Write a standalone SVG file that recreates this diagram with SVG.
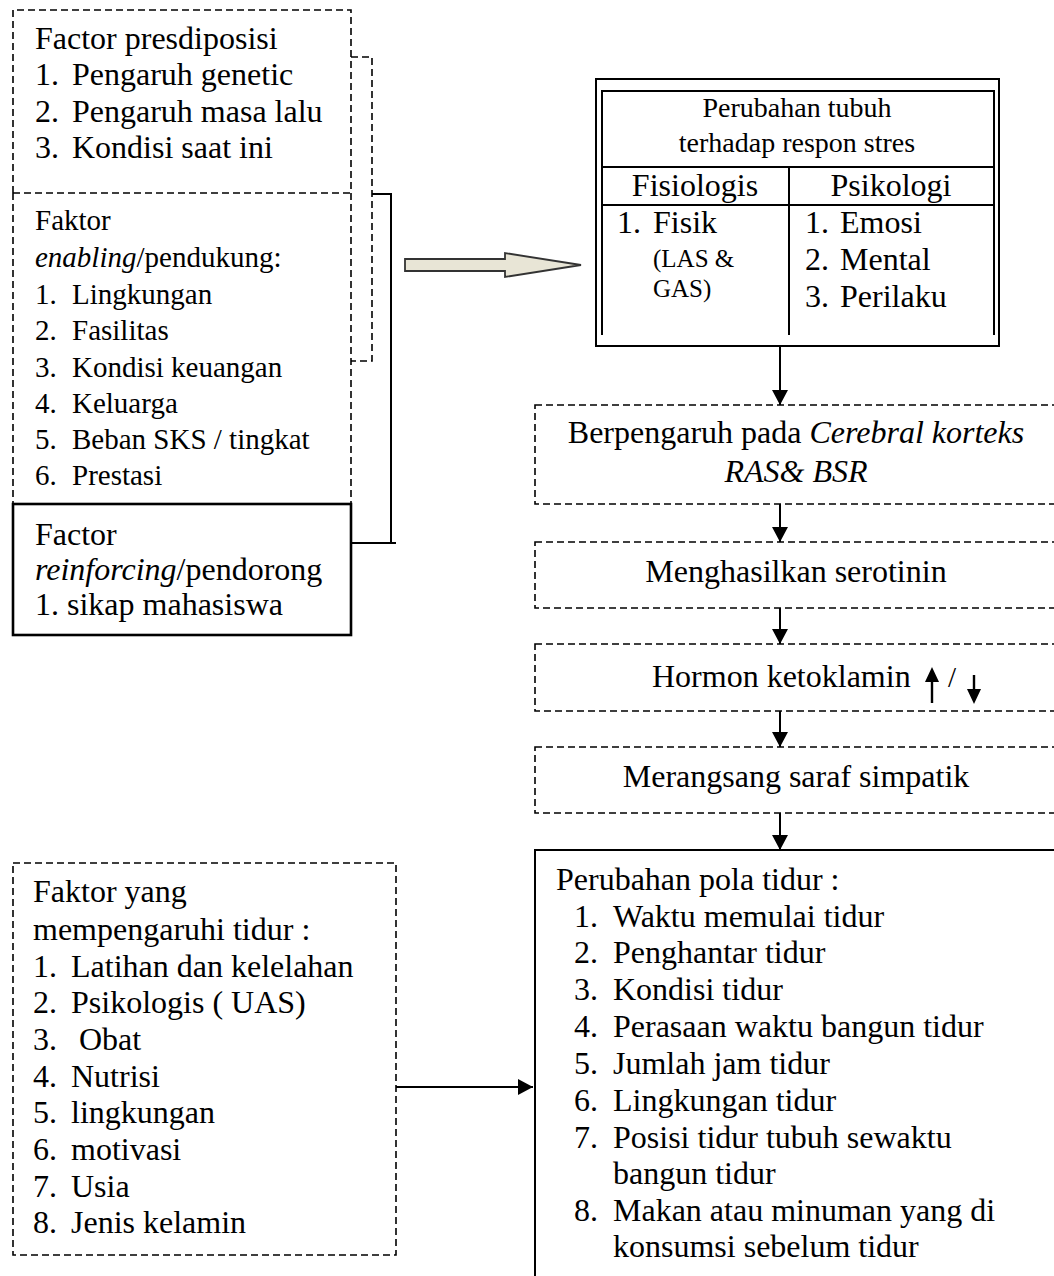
<svg xmlns="http://www.w3.org/2000/svg" width="1054" height="1276" viewBox="0 0 1054 1276">
<style>
text{font-family:"Liberation Serif","Times New Roman",serif;fill:#000;}
.t31{font-size:32px;}
.t28{font-size:29px;}
.th{font-size:28px;}
.t25{font-size:25px;}
.it{font-style:italic;}
.dash{fill:none;stroke:#000;stroke-width:1.6;stroke-dasharray:7 4;}
.solid{fill:none;stroke:#000;stroke-width:2;}
.thick{fill:none;stroke:#000;stroke-width:2.6;}
.conn{fill:none;stroke:#000;stroke-width:2;}
</style>
<defs>
<marker id="ah" markerUnits="userSpaceOnUse" markerWidth="16" markerHeight="16" refX="15" refY="8" orient="auto">
<path d="M0,0 L15,8 L0,16 Z" fill="#000"/>
</marker>
</defs>
<rect width="1054" height="1276" fill="#fff"/>

<g id="predisposisi">
<path class="dash" d="M13,193 L13,10 L351,10 L351,193"/>
<text class="t31" x="35" y="49">Factor presdiposisi</text>
<text class="t31" y="85"><tspan x="35">1.</tspan><tspan x="72">Pengaruh genetic</tspan></text>
<text class="t31" y="122"><tspan x="35">2.</tspan><tspan x="72">Pengaruh masa lalu</tspan></text>
<text class="t31" y="158"><tspan x="35">3.</tspan><tspan x="72">Kondisi saat ini</tspan></text>
</g>

<g id="enabling">
<path class="dash" d="M13,193 L351,193 M13,193 L13,504 M351,193 L351,504"/>
<text class="t28" x="35" y="230">Faktor</text>
<text class="t28" x="35" y="267"><tspan class="it">enabling</tspan>/pendukung:</text>
<text class="t28" y="304"><tspan x="35">1.</tspan><tspan x="72">Lingkungan</tspan></text>
<text class="t28" y="340"><tspan x="35">2.</tspan><tspan x="72">Fasilitas</tspan></text>
<text class="t28" y="377"><tspan x="35">3.</tspan><tspan x="72">Kondisi keuangan</tspan></text>
<text class="t28" y="413"><tspan x="35">4.</tspan><tspan x="72">Keluarga</tspan></text>
<text class="t28" y="449"><tspan x="35">5.</tspan><tspan x="72">Beban SKS / tingkat</tspan></text>
<text class="t28" y="485"><tspan x="35">6.</tspan><tspan x="72">Prestasi</tspan></text>
</g>

<g id="reinforcing">
<rect class="thick" x="13" y="504" width="338" height="131"/>
<text class="t31" x="35" y="545">Factor</text>
<text class="t31" x="35" y="580"><tspan class="it">reinforcing</tspan>/pendorong</text>
<text class="t31" x="35" y="615">1. sikap mahasiswa</text>
</g>

<g id="respon-stres">
<rect class="solid" x="596" y="79" width="403" height="267"/>
<path class="solid" d="M602,335 L602,91 L994,91 L994,335 M602,167 L994,167 M602,205 L994,205 M789,167 L789,335"/>
<text class="th" x="797" y="117" text-anchor="middle">Perubahan tubuh</text>
<text class="th" x="797" y="152" text-anchor="middle">terhadap respon stres</text>
<text class="t31" x="695" y="196" text-anchor="middle">Fisiologis</text>
<text class="t31" x="891" y="196" text-anchor="middle">Psikologi</text>
<text class="t31" y="233"><tspan x="617">1.</tspan><tspan x="653">Fisik</tspan></text>
<text class="t25" x="653" y="267">(LAS &amp;</text>
<text class="t25" x="653" y="297">GAS)</text>
<text class="t31" y="233"><tspan x="805">1.</tspan><tspan x="840">Emosi</tspan></text>
<text class="t31" y="270"><tspan x="805">2.</tspan><tspan x="840">Mental</tspan></text>
<text class="t31" y="307"><tspan x="805">3.</tspan><tspan x="840">Perilaku</tspan></text>
</g>

<g id="cerebral">
<rect class="dash" x="535" y="405" width="530" height="99"/>
<text class="t31" x="796" y="443" text-anchor="middle">Berpengaruh pada <tspan class="it">Cerebral korteks</tspan></text>
<text class="t31 it" x="796" y="482" text-anchor="middle">RAS&amp; BSR</text>
</g>

<g id="serotinin">
<rect class="dash" x="535" y="542" width="530" height="66"/>
<text class="t31" x="796" y="582" text-anchor="middle">Menghasilkan serotinin</text>
</g>

<g id="ketoklamin">
<rect class="dash" x="535" y="644" width="530" height="67"/>
<text class="t31" x="652" y="687">Hormon ketoklamin</text>
<line x1="932" y1="703" x2="932" y2="678" stroke="#000" stroke-width="2.4"/>
<path d="M925,682 L932,667 L939,682 Z" fill="#000"/>
<text class="t28" x="948" y="687">/</text>
<line x1="974" y1="675" x2="974" y2="692" stroke="#000" stroke-width="2.4"/>
<path d="M967,689 L974,704 L981,689 Z" fill="#000"/>
</g>

<g id="simpatik">
<rect class="dash" x="535" y="747" width="530" height="66"/>
<text class="t31" x="796" y="787" text-anchor="middle">Merangsang saraf simpatik</text>
</g>

<g id="pola-tidur">
<path class="solid" d="M535,1290 L535,850 L1065,850"/>
<text class="t31" x="556" y="890">Perubahan pola tidur :</text>
<text class="t31" y="927"><tspan x="574">1.</tspan><tspan x="613">Waktu memulai tidur</tspan></text>
<text class="t31" y="963"><tspan x="574">2.</tspan><tspan x="613">Penghantar tidur</tspan></text>
<text class="t31" y="1000"><tspan x="574">3.</tspan><tspan x="613">Kondisi tidur</tspan></text>
<text class="t31" y="1037"><tspan x="574">4.</tspan><tspan x="613">Perasaan waktu bangun tidur</tspan></text>
<text class="t31" y="1074"><tspan x="574">5.</tspan><tspan x="613">Jumlah jam tidur</tspan></text>
<text class="t31" y="1111"><tspan x="574">6.</tspan><tspan x="613">Lingkungan tidur</tspan></text>
<text class="t31" y="1148"><tspan x="574">7.</tspan><tspan x="613">Posisi tidur tubuh sewaktu</tspan></text>
<text class="t31" x="613" y="1184">bangun tidur</text>
<text class="t31" y="1221"><tspan x="574">8.</tspan><tspan x="613">Makan atau minuman yang di</tspan></text>
<text class="t31" x="613" y="1257">konsumsi sebelum tidur</text>
</g>

<g id="faktor-tidur">
<rect class="dash" x="13" y="863" width="383" height="392"/>
<text class="t31" x="33" y="902">Faktor yang</text>
<text class="t31" x="33" y="940">mempengaruhi tidur :</text>
<text class="t31" y="977"><tspan x="33">1.</tspan><tspan x="71">Latihan dan kelelahan</tspan></text>
<text class="t31" y="1013"><tspan x="33">2.</tspan><tspan x="71">Psikologis ( UAS)</tspan></text>
<text class="t31" y="1050"><tspan x="33">3.</tspan><tspan x="79">Obat</tspan></text>
<text class="t31" y="1087"><tspan x="33">4.</tspan><tspan x="71">Nutrisi</tspan></text>
<text class="t31" y="1123"><tspan x="33">5.</tspan><tspan x="71">lingkungan</tspan></text>
<text class="t31" y="1160"><tspan x="33">6.</tspan><tspan x="71">motivasi</tspan></text>
<text class="t31" y="1197"><tspan x="33">7.</tspan><tspan x="71">Usia</tspan></text>
<text class="t31" y="1233"><tspan x="33">8.</tspan><tspan x="71">Jenis kelamin</tspan></text>
</g>

<g id="connectors">
<path class="dash" d="M351,57 L372,57 L372,361 L351,361"/>
<path class="solid" d="M372,194 L391,194 L391,543 M351,543 L396,543"/>
<polygon points="405,259 505,259 505,253 581,265 505,277 505,271 405,271" fill="#e8e5d6" stroke="#333" stroke-width="1.8"/>
<line class="conn" x1="780" y1="346" x2="780" y2="405" marker-end="url(#ah)"/>
<line class="conn" x1="780" y1="504" x2="780" y2="542" marker-end="url(#ah)"/>
<line class="conn" x1="780" y1="608" x2="780" y2="644" marker-end="url(#ah)"/>
<line class="conn" x1="780" y1="711" x2="780" y2="747" marker-end="url(#ah)"/>
<line class="conn" x1="780" y1="813" x2="780" y2="850" marker-end="url(#ah)"/>
<line class="conn" x1="396" y1="1087" x2="533" y2="1087" marker-end="url(#ah)"/>
</g>
</svg>
